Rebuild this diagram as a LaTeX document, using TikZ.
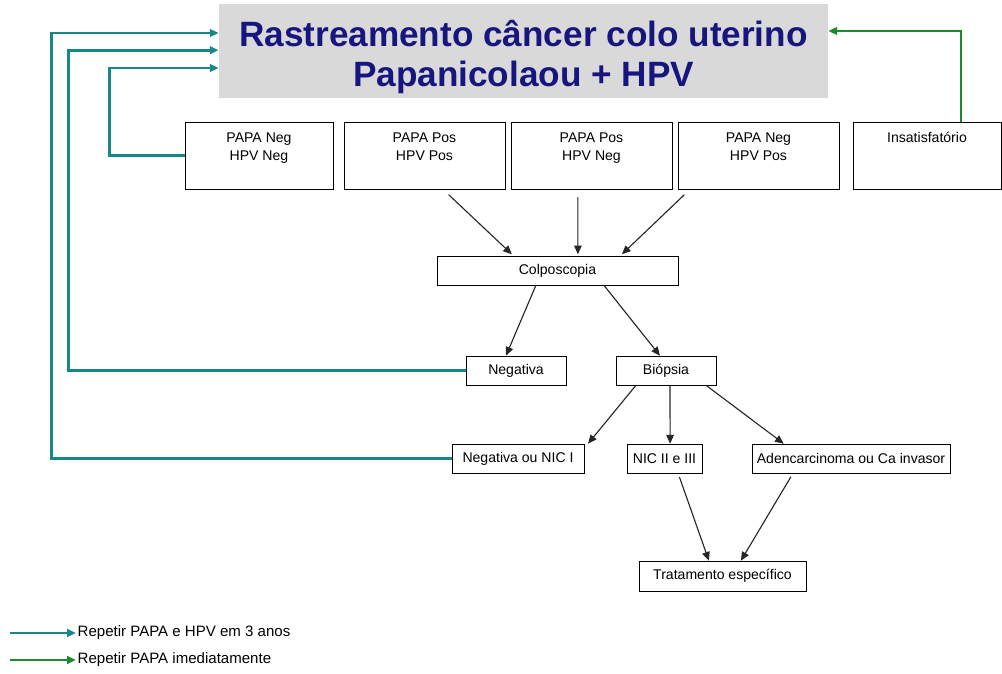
\documentclass[tikz,border=0pt]{standalone}
\usepackage{fontspec}
\setmainfont{Liberation Sans}
\usepackage{xcolor}
\usetikzlibrary{arrows.meta,positioning}
\definecolor{titleblue}{HTML}{16167E}
\definecolor{titlegray}{HTML}{D9D9D9}
\definecolor{tealline}{HTML}{16878A}
\definecolor{greenline}{HTML}{1E8A2C}
\tikzset{
  titlebox/.style={
    rectangle, fill=titlegray, draw=none, inner ysep=0pt,
    minimum width=15.225cm, minimum height=2.35cm,
    align=center, text=titleblue,
    font=\fontsize{25}{28.5}\selectfont\bfseries
  },
  resultbox/.style={
    rectangle, draw=black, thin, fill=white,
    minimum width=4.025cm, minimum height=1.625cm,
    align=center, font=\fontsize{10}{12.8}\selectfont
  },
  stepbox/.style={
    rectangle, draw=black, thin, fill=white,
    minimum height=0.725cm, inner sep=1pt,
    align=center, font=\fontsize{10}{12}\selectfont
  },
  flowarrow/.style={-{Triangle[length=2.2mm,width=1.9mm]}, line width=0.8pt, color=black!85},
  repeatline/.style={-{Triangle[length=2.2mm,width=1.9mm]}, line width=2.1pt, color=tealline},
  nowline/.style={-{Triangle[length=2.2mm,width=1.9mm]}, line width=2.1pt, color=greenline},
  legendtext/.style={anchor=west, inner sep=1pt, font=\fontsize{10.7}{12}\selectfont},
}
\begin{document}
\begin{tikzpicture}[x=0.025cm, y=-0.025cm]
  \useasboundingbox (0,0) rectangle (1002,674);

  % title
  \node[titlebox] (title) at (523.5,51) {\rule{0pt}{27pt}Rastreamento câncer colo uterino\\Papanicolaou + HPV};

  % first results
  \node[resultbox, minimum width=3.7cm] (nn) at (259,155.5) {\rule{0pt}{11.5pt}PAPA Neg\\HPV Neg\\\strut};
  \node[resultbox] (pp) at (424.5,155.5) {\rule{0pt}{11.5pt}PAPA Pos\\HPV Pos\\\strut};
  \node[resultbox] (pn) at (591.5,155.5) {\rule{0pt}{11.5pt}PAPA Pos\\HPV Neg\\\strut};
  \node[resultbox] (np) at (758.5,155.5) {\rule{0pt}{11.5pt}PAPA Neg\\HPV Pos\\\strut};
  \node[resultbox, minimum width=3.7cm] (insat) at (927,155.5) {\rule{0pt}{11.5pt}Insatisfatório\\\strut\\\strut};

  % follow-up
  \node[stepbox, minimum width=6.025cm] (colpo) at (557.5,270.5) {Colposcopia};
  \node[stepbox, minimum width=2.5cm] (neg) at (516,370.5) {Negativa};
  \node[stepbox, minimum width=2.5cm] (bio) at (666,370.5) {Biópsia};
  \node[stepbox, minimum width=3.3cm] (negnic) at (518,458.5) {Negativa ou NIC I};
  \node[stepbox, minimum width=1.875cm] (nic) at (664.5,458.5) {NIC II e III};
  \node[stepbox, minimum width=4.95cm] (adeno) at (851,458.5) {Adencarcinoma ou Ca invasor};
  \node[stepbox, minimum width=4.175cm, minimum height=0.75cm] (trat) at (722.5,576) {Tratamento específico};

  \draw[flowarrow, shorten <=2mm] ([xshift=0.46cm]pp.south) -- ([xshift=-1.14cm,yshift=1pt]colpo.north);
  \draw[flowarrow, shorten <=2mm] ([xshift=-0.34cm]pn.south) -- ([xshift=0.51cm,yshift=1pt]colpo.north);
  \draw[flowarrow, shorten <=2mm] ([xshift=-1.71cm]np.south) -- ([xshift=1.61cm,yshift=1pt]colpo.north);

  \draw[flowarrow] ([xshift=-0.54cm]colpo.south) -- ([xshift=-0.25cm]neg.north);
  \draw[flowarrow] ([xshift=1.16cm]colpo.south) -- ([xshift=-0.15cm]bio.north);

  \draw[flowarrow] ([xshift=-0.75cm]bio.south) -- ([xshift=1.75cm]negnic.north);
  \draw[flowarrow] ([xshift=0.1cm]bio.south) -- ([xshift=0.14cm]nic.north);
  \draw[flowarrow] ([xshift=1.0cm]bio.south) -- ([xshift=-1.68cm]adeno.north);

  \draw[flowarrow, shorten <=1mm] ([xshift=0.34cm]nic.south) -- ([xshift=-0.34cm]trat.north);
  \draw[flowarrow, shorten <=1mm] ([xshift=-1.45cm]adeno.south) -- ([xshift=0.46cm]trat.north);

  % back to screening
  \draw[repeatline] (negnic.west) -- ++(-400,0) |- ([yshift=0.45cm]title.west);
  \draw[repeatline] (neg.west) -- ++(-397,0) |- ([yshift=0.02cm]title.west);
  \draw[repeatline] (nn.west) -- ++(-75,0) |- ([yshift=-0.425cm]title.west);
  \draw[nowline] ([xshift=0.85cm]insat.north) |- ([yshift=0.5cm]title.east);

  % legend
  \coordinate (legrep) at (10,633);
  \coordinate (legnow) at (10,660);
  \node[legendtext] (legreptxt) at (76,633) {Repetir PAPA e HPV em 3 anos};
  \node[legendtext] (legnowtxt) at (76,660) {Repetir PAPA imediatamente};
  \draw[repeatline] (legrep) -- (legreptxt.west);
  \draw[nowline] (legnow) -- (legnowtxt.west);
\end{tikzpicture}
\end{document}
